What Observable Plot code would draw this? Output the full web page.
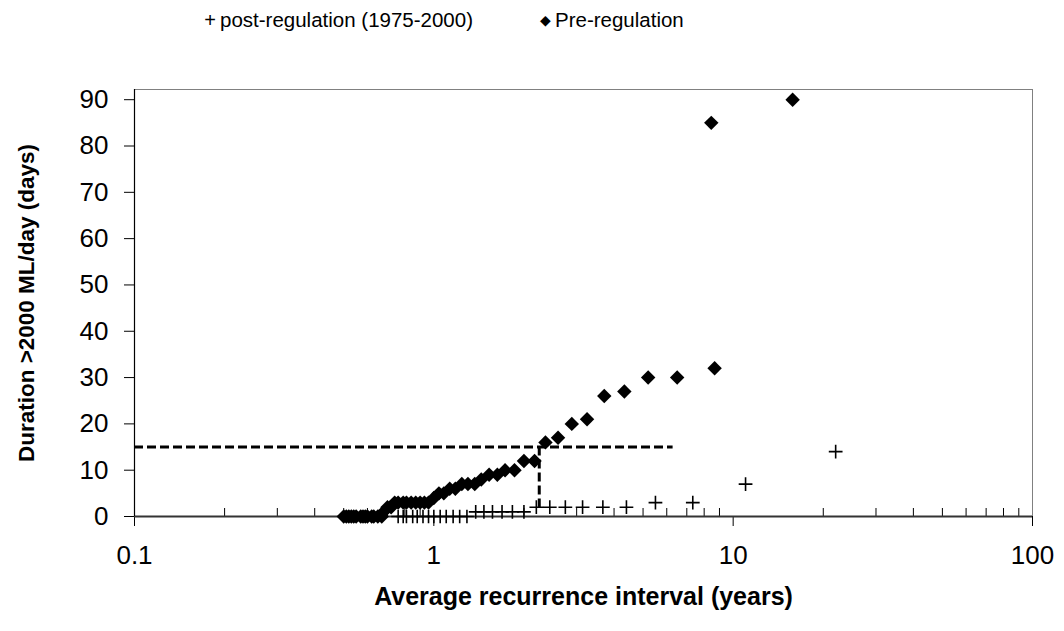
<!DOCTYPE html>
<html>
<head>
<meta charset="utf-8">
<script src="https://cdn.jsdelivr.net/npm/d3@7"></script>
<script src="https://cdn.jsdelivr.net/npm/@observablehq/plot@0.6"></script>
<style>
  body { margin: 0; background: #fff; font-family: "Liberation Sans", Arial, sans-serif; }
  #wrap { position: relative; width: 1064px; height: 631px; background: #fff; }
  #legend { position: absolute; top: 0; left: 0; width: 1064px; height: 40px; font-size: 20.5px; color: #000; }
  .li { position: absolute; top: 8px; white-space: nowrap; line-height: 24px; }
  .li .mk { display: inline-block; width: 14px; text-align: center; margin-right: 3px; }
  g[aria-label="x-axis label"] text { font-weight: bold; font-size: 25px; }
  g[aria-label="y-axis label"] text { font-weight: bold; font-size: 22.5px; }
</style>
</head>
<body>
<div id="wrap">
  <div id="legend">
    <div class="li" style="left:203px"><span class="mk" style="font-size:20px">+</span>post-regulation (1975-2000)</div>
    <div class="li" style="left:538px"><span class="mk" style="font-size:14px;vertical-align:2px">&#9670;</span>Pre-regulation</div>
  </div>
  <div id="chart"></div>
</div>
<script>
// ---- data ----
const preARI = [15.8, 8.45, 8.67, 6.5, 5.2, 4.33, 3.71, 3.25, 2.89, 2.6, 2.36, 2.17, 2.0,
  1.86, 1.73, 1.63, 1.53, 1.44, 1.37, 1.3, 1.24, 1.18, 1.13, 1.08, 1.04, 1.0,
  0.96, 0.93, 0.9, 0.87, 0.84, 0.81, 0.79, 0.76, 0.74, 0.72, 0.70, 0.68, 0.67,
  0.65, 0.63, 0.62, 0.60, 0.59, 0.58, 0.57, 0.55, 0.54, 0.53, 0.52, 0.51, 0.5];
const preDays = [90, 85, 32, 30, 30, 27, 26, 21, 20, 17, 16, 12, 12,
  10, 10, 9, 9, 8, 7, 7, 7, 6, 6, 5, 5, 4,
  3, 3, 3, 3, 3, 3, 3, 3, 3, 2, 2, 1, 0,
  0, 0, 0, 0, 0, 0, 0, 0, 0, 0, 0, 0, 0];
const postARI = [22, 11, 7.33, 5.5, 4.4, 3.67, 3.14, 2.75, 2.44, 2.2,
  2.0, 1.83, 1.69, 1.57, 1.47, 1.38,
  1.29, 1.22, 1.16, 1.1, 1.05, 1.0, 0.96, 0.92, 0.88, 0.85, 0.81, 0.79, 0.76];
const postDays = [14, 7, 3, 3, 2, 2, 2, 2, 2, 2,
  1, 1, 1, 1, 1, 1,
  0, 0, 0, 0, 0, 0, 0, 0, 0, 0, 0, 0, 0];
const thresholdDays = 15;      // horizontal dashed line
const thresholdARI = 2.25;     // vertical dashed line
const thresholdLineEndARI = 6.3;
const thresholdVertEndDays = 1;

const xDomain = [0.1, 100];
const yDomain = [0, 92.2];
const xTicks = [0.1, 1, 10, 100];
const xMinorTicks = [0.2, 0.3, 0.4, 0.5, 0.6, 0.7, 0.8, 0.9, 2, 3, 4, 5, 6, 7, 8, 9, 20, 30, 40, 50, 60, 70, 80, 90];
const yTicks = [0, 10, 20, 30, 40, 50, 60, 70, 80, 90];

const pre = preARI.map((x, i) => ({x, y: preDays[i]}));
const post = postARI.map((x, i) => ({x, y: postDays[i]}));
const hLine = [{x1: xDomain[0], x2: thresholdLineEndARI, y: thresholdDays}];
const vLine = [{x: thresholdARI, y1: thresholdDays, y2: thresholdVertEndDays}];

const chart = Plot.plot({
  width: 1064,
  height: 631,
  marginTop: 89,
  marginBottom: 115,
  marginLeft: 134,
  marginRight: 32,
  x: {type: "log", domain: xDomain},
  y: {domain: yDomain},
  style: {fontFamily: "'Liberation Sans', Arial, sans-serif", fontSize: "26px", color: "#000", background: "transparent", overflow: "visible"},
  marks: [
    Plot.frame({stroke: "#808080"}),
    Plot.axisY({ticks: yTicks, tickSize: 10, tickPadding: 16, tickFormat: d => String(d),
      label: "Duration >2000 ML/day (days)", labelAnchor: "center", labelOffset: 116, labelArrow: "none"}),
    Plot.axisX({ticks: xTicks, tickSize: 10, tickPadding: 19, tickFormat: d => String(d),
      label: "Average recurrence interval (years)", labelAnchor: "center", labelOffset: 88, labelArrow: "none"}),
    Plot.axisX({ticks: xMinorTicks, tickSize: -8, tickFormat: () => "", label: null}),
    Plot.ruleY([yDomain[0]], {stroke: "#333", strokeWidth: 2}),
    Plot.ruleX([xDomain[0]], {stroke: "#000", strokeWidth: 1.2}),
    Plot.ruleY(hLine, {x1: "x1", x2: "x2", y: "y", stroke: "#000", strokeWidth: 3, strokeDasharray: "9,4"}),
    Plot.ruleX(vLine, {x: "x", y1: "y1", y2: "y2", stroke: "#000", strokeWidth: 3, strokeDasharray: "9,4"}),
    Plot.dot(post, {x: "x", y: "y", symbol: "plus", r: 4.5, stroke: "#000", strokeWidth: 1.6}),
    Plot.dot(pre, {x: "x", y: "y", symbol: "diamond2", r: 6.5, fill: "#000", stroke: "none"})
  ]
});
document.getElementById("chart").appendChild(chart);
</script>
</body>
</html>
